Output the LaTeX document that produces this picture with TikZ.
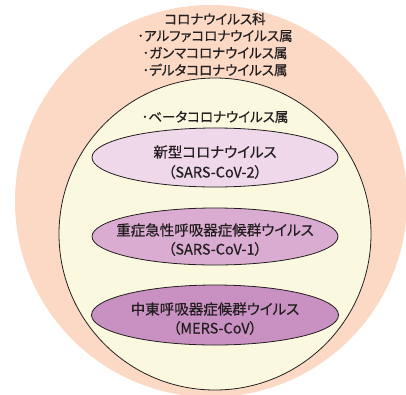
\documentclass[tikz,border=0pt]{standalone}
\usepackage{fontspec}
\newfontfamily\jp{Noto Sans CJK JP}[RawFeature=+palt, FakeBold=0.6]
\usetikzlibrary{shapes.geometric}
\definecolor{peach}{HTML}{FBD9C4}
\definecolor{cream}{HTML}{FAF9E0}
\definecolor{pinkA}{HTML}{EFD8EA}
\definecolor{pinkB}{HTML}{DAACD1}
\definecolor{pinkC}{HTML}{C990C2}
\definecolor{ink}{HTML}{231F20}
\tikzset{
  lbl/.style={font=\jp\fontsize{13.5}{16.5}\selectfont, align=center, inner sep=0pt, text=ink},
  inlbl/.style={lbl, font=\jp\fontsize{14.5}{17}\selectfont},
  oval/.style={ellipse, draw=ink, line width=0.8pt, inner sep=0pt},
}
\begin{document}
\begin{tikzpicture}[x=1pt,y=-1pt]
\useasboundingbox (0,0) rectangle (406,394);
\clip (0,0) rectangle (406,394);
\fill[peach] (211,201) circle[radius=196];
\node[circle, fill=cream, draw=ink, line width=0.8pt, minimum size=312pt, inner sep=0pt] (genus) at (215,234) {};
\node[oval, fill=pinkA, minimum width=246pt, minimum height=59pt] (e1) at (215,157.5) {};
\node[oval, fill=pinkB, minimum width=246pt, minimum height=57pt] (e2) at (215,236.5) {};
\node[oval, fill=pinkC, minimum width=247pt, minimum height=60pt] (e3) at (215,315) {};
\node[lbl] (fam) at (215,19) {コロナウイルス科};
\node[lbl] (alpha) at (215,36) {･アルファコロナウイルス属};
\node[lbl] (gamma) at (215,53) {･ガンマコロナウイルス属};
\node[lbl] (delta) at (215,70) {･デルタコロナウイルス属};
\node[lbl] (beta) at (215,117) {･ベータコロナウイルス属};
\node[inlbl] (t1a) at (215,152) {新型コロナウイルス};
\node[inlbl] (t1b) at (215,172) {（SARS-CoV-2）};
\node[inlbl] (t2a) at (215,230) {重症急性呼吸器症候群ウイルス};
\node[inlbl] (t2b) at (215,249) {（SARS-CoV-1）};
\node[inlbl] (t3a) at (215,309) {中東呼吸器症候群ウイルス};
\node[inlbl] (t3b) at (215,328) {（MERS-CoV）};
\end{tikzpicture}
\end{document}
